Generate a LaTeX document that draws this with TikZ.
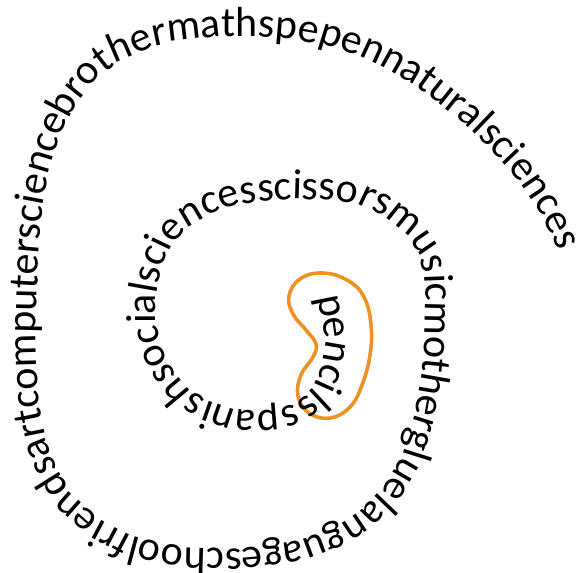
\documentclass[tikz,border=0pt]{standalone}
\usepackage{fontspec}
\setmainfont{Carlito}
\usepackage{tikz}
\usetikzlibrary{decorations.text}
\usepackage{xcolor}
\definecolor{beanorange}{RGB}{238,146,38}
\newcommand{\spiralfont}{\fontsize{10.5}{12}\selectfont}

\begin{document}
\begin{tikzpicture}[
    x=0.25pt, y=0.25pt,
    spiraltext/.style={decorate, decoration={text along path,
        text={|\spiralfont|#1}}},
    bean/.style={draw=beanorange, line width=0.9pt, line join=round}
]
\useasboundingbox (0,0) rectangle (581,572);

% the outline round the start of the spiral
\draw[bean] plot[smooth cycle, tension=0.7] coordinates {
    (300,293) (322,299) (347,292) (364,275) (371,247) (370,217) (362,187)
    (350,165) (330,154) (309,159) (298,176) (301,197) (313,215) (316,228)
    (306,242) (293,258) (289,276)};

% the words, running out from the middle
\path[spiraltext={pencilsspanishsocialsciencesscissorsmusicmothergluelanguageschoolfriendsartcomputersciencebrothermathspepennaturalsciences}]
    (318,275) -- (323,250) -- (326,227) -- (322,204) -- (313,184) -- (298,170)
    -- (280,163) -- (255,161) -- (230,164) -- (207,172) -- (188,184) -- (173,202)
    -- (162,224) -- (156,250) -- (156,276) -- (161,304) -- (172,327) -- (190,346)
    -- (212,359) -- (238,367) -- (265,371) -- (297,373) -- (330,372) -- (360,367)
    -- (385,355) -- (405,339) -- (418,320) -- (425,297) -- (426,272) -- (425,232)
    -- (421,192) -- (414,152) -- (403,117) -- (385,86) -- (362,62) -- (335,44)
    -- (300,31) -- (265,26) -- (230,23) -- (195,24) -- (160,29) -- (130,37)
    -- (100,53) -- (75,75) -- (58,102) -- (46,132) -- (40,162) -- (37,202)
    -- (36,242) -- (37,282) -- (39,322) -- (43,367) -- (50,404) -- (60,437)
    -- (76,467) -- (96,492) -- (122,512) -- (152,525) -- (185,532) -- (220,536)
    -- (255,536) -- (290,533) -- (325,527) -- (357,517) -- (385,504) -- (410,490)
    -- (435,472) -- (460,452) -- (483,430) -- (505,407) -- (525,382) -- (542,357)
    -- (555,330) -- (562,310) -- (565,292);
\end{tikzpicture}
\end{document}
